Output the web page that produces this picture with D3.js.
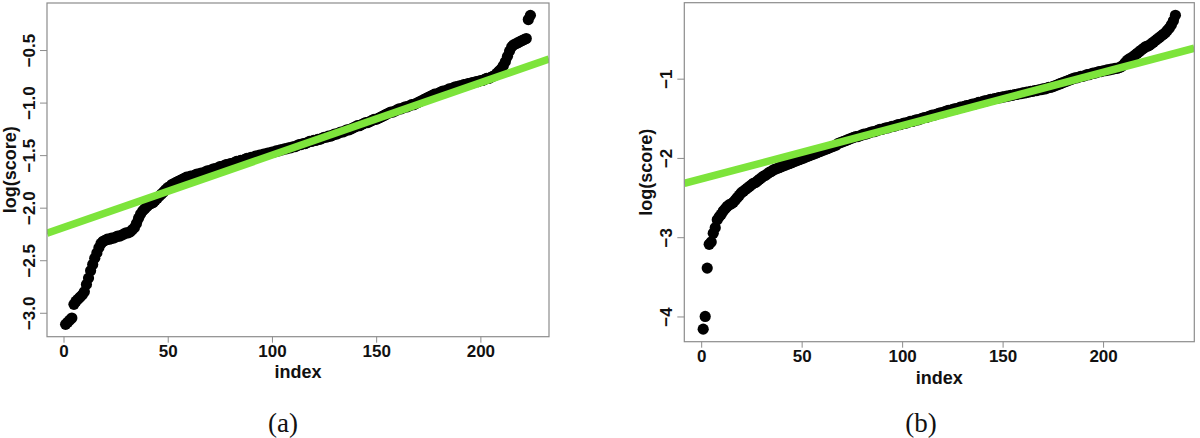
<!DOCTYPE html>
<html>
<head>
<meta charset="utf-8">
<script src="https://cdn.jsdelivr.net/npm/d3@7"></script>
<style>
  html, body { margin: 0; padding: 0; background: #fff; }
  svg { display: block; }
  .tick text { font-family: "Liberation Sans", Arial, sans-serif; font-weight: bold; font-size: 17px; fill: #111; }
  .ttl { font-family: "Liberation Sans", Arial, sans-serif; font-weight: bold; font-size: 18px; fill: #111; }
  .cap { font-family: "Liberation Serif", "Times New Roman", serif; font-size: 27px; fill: #111; }
</style>
</head>
<body>
<svg id="chart" width="1200" height="438"></svg>
<script>
// ---------- DATA ----------
// Panel (a): sorted log(score), index 1..224
const scoresA = [
  -3.11,-3.09,-3.07,-3.05,-2.92,-2.89,-2.87,-2.85,-2.83,-2.80,
  -2.73,-2.67,-2.60,-2.54,-2.48,-2.43,-2.38,-2.34,-2.32,-2.31,
  -2.30,-2.30,-2.29,-2.29,-2.28,-2.27,-2.27,-2.26,-2.25,-2.24,
  -2.24,-2.23,-2.21,-2.19,-2.15,-2.10,-2.06,-2.03,-2.01,-1.99,
  -1.97,-1.96,-1.95,-1.93,-1.91,-1.89,-1.87,-1.85,-1.83,-1.81,
  -1.80,-1.78,-1.77,-1.76,-1.75,-1.74,-1.73,-1.72,-1.71,-1.71,
  -1.70,-1.70,-1.69,-1.68,-1.68,-1.67,-1.67,-1.66,-1.65,-1.65,
  -1.64,-1.63,-1.63,-1.62,-1.61,-1.61,-1.60,-1.59,-1.59,-1.58,
  -1.58,-1.57,-1.56,-1.56,-1.55,-1.55,-1.54,-1.53,-1.53,-1.52,
  -1.52,-1.51,-1.51,-1.50,-1.50,-1.49,-1.49,-1.48,-1.48,-1.47,
  -1.47,-1.46,-1.46,-1.45,-1.45,-1.44,-1.44,-1.43,-1.43,-1.42,
  -1.42,-1.41,-1.40,-1.40,-1.39,-1.39,-1.38,-1.37,-1.37,-1.36,
  -1.36,-1.35,-1.35,-1.34,-1.33,-1.33,-1.32,-1.32,-1.31,-1.30,
  -1.30,-1.29,-1.28,-1.28,-1.27,-1.26,-1.26,-1.25,-1.24,-1.23,
  -1.22,-1.22,-1.21,-1.20,-1.19,-1.19,-1.18,-1.17,-1.16,-1.16,
  -1.15,-1.14,-1.13,-1.12,-1.11,-1.10,-1.09,-1.09,-1.08,-1.07,
  -1.06,-1.06,-1.05,-1.04,-1.04,-1.03,-1.02,-1.02,-1.01,-1.00,
  -0.99,-0.98,-0.97,-0.96,-0.95,-0.94,-0.93,-0.92,-0.92,-0.91,
  -0.90,-0.89,-0.89,-0.88,-0.87,-0.87,-0.86,-0.85,-0.85,-0.84,
  -0.84,-0.83,-0.83,-0.82,-0.82,-0.81,-0.81,-0.80,-0.80,-0.79,
  -0.79,-0.78,-0.77,-0.77,-0.76,-0.75,-0.74,-0.72,-0.70,-0.68,
  -0.65,-0.61,-0.56,-0.51,-0.47,-0.45,-0.44,-0.43,-0.42,-0.41,
  -0.40,-0.39,-0.21,-0.17
];
// Panel (b): sorted log(score), index 1..236
const scoresB = [
  -4.16,-4.00,-3.39,-3.09,-3.06,-2.95,-2.88,-2.78,-2.74,-2.71,
  -2.67,-2.64,-2.61,-2.59,-2.58,-2.56,-2.53,-2.50,-2.47,-2.44,
  -2.42,-2.40,-2.38,-2.36,-2.34,-2.32,-2.31,-2.29,-2.27,-2.25,
  -2.23,-2.22,-2.20,-2.18,-2.17,-2.15,-2.14,-2.13,-2.12,-2.11,
  -2.10,-2.09,-2.08,-2.07,-2.06,-2.05,-2.04,-2.03,-2.02,-2.01,
  -2.00,-1.99,-1.98,-1.97,-1.96,-1.95,-1.94,-1.93,-1.92,-1.91,
  -1.90,-1.89,-1.88,-1.87,-1.86,-1.85,-1.84,-1.82,-1.81,-1.80,
  -1.79,-1.78,-1.77,-1.76,-1.75,-1.74,-1.73,-1.73,-1.72,-1.71,
  -1.70,-1.70,-1.69,-1.68,-1.67,-1.67,-1.66,-1.65,-1.64,-1.64,
  -1.63,-1.62,-1.62,-1.61,-1.60,-1.60,-1.59,-1.58,-1.58,-1.57,
  -1.56,-1.56,-1.55,-1.54,-1.54,-1.53,-1.52,-1.52,-1.51,-1.50,
  -1.49,-1.49,-1.48,-1.47,-1.46,-1.46,-1.45,-1.44,-1.43,-1.43,
  -1.42,-1.41,-1.40,-1.40,-1.39,-1.38,-1.38,-1.37,-1.36,-1.36,
  -1.35,-1.34,-1.34,-1.33,-1.32,-1.32,-1.31,-1.30,-1.30,-1.29,
  -1.28,-1.28,-1.27,-1.26,-1.26,-1.25,-1.25,-1.24,-1.24,-1.23,
  -1.23,-1.22,-1.22,-1.21,-1.21,-1.20,-1.20,-1.19,-1.19,-1.18,
  -1.18,-1.17,-1.17,-1.16,-1.16,-1.15,-1.15,-1.14,-1.14,-1.13,
  -1.13,-1.12,-1.11,-1.11,-1.10,-1.09,-1.08,-1.07,-1.06,-1.05,
  -1.04,-1.03,-1.02,-1.01,-1.00,-0.99,-0.99,-0.98,-0.97,-0.97,
  -0.96,-0.95,-0.95,-0.94,-0.93,-0.93,-0.92,-0.91,-0.91,-0.90,
  -0.90,-0.89,-0.89,-0.88,-0.88,-0.87,-0.87,-0.86,-0.85,-0.83,
  -0.80,-0.77,-0.75,-0.74,-0.72,-0.70,-0.68,-0.66,-0.64,-0.62,
  -0.60,-0.59,-0.58,-0.56,-0.54,-0.52,-0.50,-0.48,-0.46,-0.44,
  -0.42,-0.39,-0.36,-0.32,-0.27,-0.20
];
// Fitted reference lines (intercept, slope)
const fitA = [-2.188, 0.00688];
const fitB = [-2.265, 0.00672];
// Tick labels
const xTicksA = [0, 50, 100, 150, 200];
const yTicksA = [-0.5, -1.0, -1.5, -2.0, -2.5, -3.0];
const xTicksB = [0, 50, 100, 150, 200];
const yTicksB = [-1, -2, -3, -4];
const captions = ["(a)", "(b)"];
const xTitle = "index";
const yTitle = "log(score)";

// ---------- DRAW ----------
const svg = d3.select("#chart");
const DOT = "#000";
const GREEN = "#7de43b";
const FRAME = "#8c8c8c";

function rPad(lo, hi) { const p = (hi - lo) * 0.04; return [lo - p, hi + p]; }

function panel(cfg) {
  const vals = cfg.values;
  const n = vals.length;
  const x = d3.scaleLinear().domain(rPad(1, n)).range([cfg.left, cfg.right]);
  const y = d3.scaleLinear().domain(rPad(d3.min(vals), d3.max(vals))).range([cfg.bottom, cfg.top]);
  const g = svg.append("g");
  const clipId = "clip" + cfg.id;
  svg.append("clipPath").attr("id", clipId).append("rect")
    .attr("x", cfg.left).attr("y", cfg.top)
    .attr("width", cfg.right - cfg.left).attr("height", cfg.bottom - cfg.top);

  // points
  g.append("g").selectAll("circle").data(vals).join("circle")
    .attr("cx", (d, i) => x(i + 1))
    .attr("cy", d => y(d))
    .attr("r", 5.6)
    .attr("fill", DOT);

  // abline
  const [a, b] = cfg.fit;
  const [x0, x1] = x.domain();
  g.append("line")
    .attr("clip-path", `url(#${clipId})`)
    .attr("x1", x(x0)).attr("y1", y(a + b * x0))
    .attr("x2", x(x1)).attr("y2", y(a + b * x1))
    .attr("stroke", GREEN).attr("stroke-width", 7.5);

  // frame
  g.append("rect")
    .attr("x", cfg.left).attr("y", cfg.top)
    .attr("width", cfg.right - cfg.left).attr("height", cfg.bottom - cfg.top)
    .attr("fill", "none").attr("stroke", FRAME).attr("stroke-width", 1.2);

  // x axis
  const xa = g.append("g").attr("transform", `translate(0,${cfg.bottom})`)
    .call(d3.axisBottom(x).tickValues(cfg.xTicks).tickSize(6).tickPadding(3).tickFormat(d3.format("d")));
  xa.select(".domain").remove();
  xa.selectAll(".tick line").attr("stroke", FRAME);
  xa.selectAll(".tick text").attr("y", cfg.xLabBase - cfg.bottom).attr("dy", 0);

  // y axis
  const ya = g.append("g").attr("transform", `translate(${cfg.left},0)`)
    .call(d3.axisLeft(y).tickValues(cfg.yTicks).tickSize(7).tickFormat(d3.format(cfg.yFmt)));
  ya.select(".domain").remove();
  ya.selectAll(".tick line").attr("stroke", FRAME);
  ya.selectAll(".tick text")
    .attr("x", null).attr("dy", null)
    .attr("text-anchor", "middle")
    .attr("transform", `translate(${cfg.yLabBase - cfg.left},0) rotate(-90)`);

  // titles
  g.append("text").attr("class", "ttl")
    .attr("x", (cfg.left + cfg.right) / 2).attr("y", cfg.xTitleBase)
    .attr("text-anchor", "middle").text(xTitle);
  g.append("text").attr("class", "ttl")
    .attr("transform", `translate(${cfg.yTitleBase},${(cfg.top + cfg.bottom) / 2}) rotate(-90)`)
    .attr("text-anchor", "middle").text(yTitle);

  // caption
  svg.append("text").attr("class", "cap")
    .attr("x", cfg.capX).attr("y", 432)
    .attr("text-anchor", "middle").text(cfg.caption);
}

panel({ id: "a", values: scoresA, fit: fitA, xTicks: xTicksA, yTicks: yTicksA, yFmt: ".1f",
  left: 47, right: 549, top: 3, bottom: 336.7,
  xLabBase: 357, xTitleBase: 378, yLabBase: 35, yTitleBase: 15.5,
  capX: 283, caption: captions[0] });

panel({ id: "b", values: scoresB, fit: fitB, xTicks: xTicksB, yTicks: yTicksB, yFmt: "d",
  left: 684.3, right: 1194.3, top: 2.7, bottom: 341.7,
  xLabBase: 362.5, xTitleBase: 384, yLabBase: 671.5, yTitleBase: 651.5,
  capX: 921, caption: captions[1] });
</script>
</body>
</html>
